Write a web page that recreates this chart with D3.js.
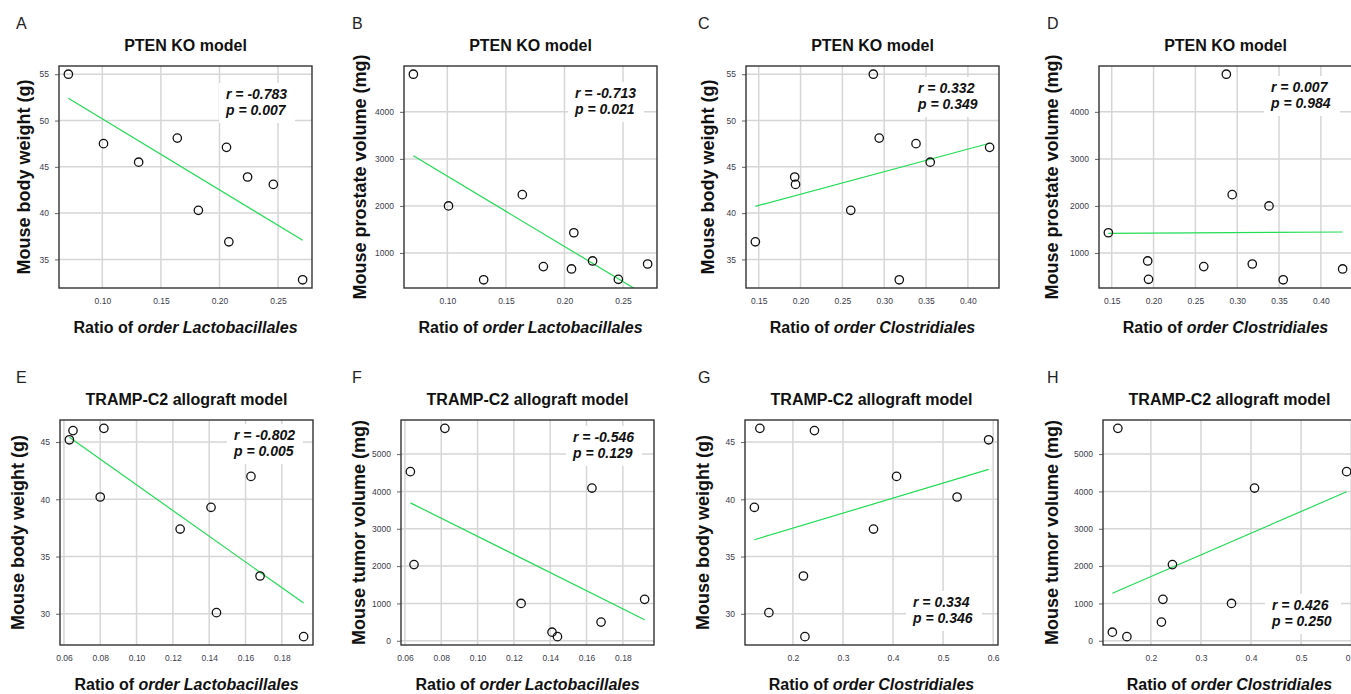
<!DOCTYPE html>
<html>
<head>
<meta charset="utf-8">
<script src="https://cdn.jsdelivr.net/npm/d3@7"></script>
<style>
  html, body { margin: 0; padding: 0; background: #fff; overflow: hidden; }
  svg { display: block; font-family: "Liberation Sans", Arial, sans-serif; }
</style>
</head>
<body>
<svg id="chart"></svg>
<script>
// PTEN KO model: the same ten mice in panels A-D
let ptenLacto    = [0.071, 0.101, 0.131, 0.164, 0.182, 0.206, 0.208, 0.224, 0.246, 0.271];
let ptenClostr   = [0.287, 0.338, 0.355, 0.294, 0.260, 0.426, 0.146, 0.193, 0.194, 0.318];
let ptenWeight   = [55.0, 47.5, 45.5, 48.1, 40.3, 47.1, 36.9, 43.9, 43.1, 32.8];
let ptenProstate = [4800, 2000, 430, 2240, 710, 660, 1430, 830, 440, 765];

// TRAMP-C2 allograft model: ten mice in panels E-H (one has no tumour value)
let trampLacto  = [0.063, 0.065, 0.080, 0.082, 0.124, 0.141, 0.144, 0.163, 0.168, 0.192];
let trampClostr = [0.591, 0.243, 0.528, 0.134, 0.361, 0.123, 0.152, 0.407, 0.221, 0.224];
let trampWeight = [45.2, 46.0, 40.2, 46.2, 37.4, 39.3, 30.1, 42.0, 33.3, 28.0];
let trampTumor  = [4530, 2040, null, 5690, 1000, 230, 110, 4090, 500, 1110];

// correlation results printed on each panel
let statR = ["-0.783", "-0.713", "0.332", "0.007", "-0.802", "-0.546", "0.334", "0.426"];
let statP = ["0.007", "0.021", "0.349", "0.984", "0.005", "0.129", "0.346", "0.250"];

// tick labels
let ticksPtenLacto  = [0.10, 0.15, 0.20, 0.25];
let ticksPtenClostr = [0.15, 0.20, 0.25, 0.30, 0.35, 0.40];
let ticksTrampLacto = [0.06, 0.08, 0.10, 0.12, 0.14, 0.16, 0.18];
let ticksTrampClostr = [0.2, 0.3, 0.4, 0.5, 0.6];
let ticksPtenWeight = [35, 40, 45, 50, 55];
let ticksProstate   = [1000, 2000, 3000, 4000];
let ticksTrampWeight = [30, 35, 40, 45];
let ticksTumor      = [0, 1000, 2000, 3000, 4000, 5000];

let width = 1351;
let height = 694;
let boxW = 253;

let svg = d3.select("#chart").attr("width", width).attr("height", height);

let panels = [
    { letter: "A", letterX: 16, title: "PTEN KO model", xs: ptenLacto, ys: ptenWeight, xTicks: ticksPtenLacto, xFmt: ".2f", yTicks: ticksPtenWeight, order: "Lactobacillales", ylab: "Mouse body weight (g)", left: 59, top: 66, h: 222, ylabOff: 29, statX: 167, statY: 33 },
    { letter: "B", letterX: 352, title: "PTEN KO model", xs: ptenLacto, ys: ptenProstate, xTicks: ticksPtenLacto, xFmt: ".2f", yTicks: ticksProstate, order: "Lactobacillales", ylab: "Mouse prostate volume (mg)", left: 404, top: 66, h: 222, ylabOff: 38, statX: 171, statY: 32 },
    { letter: "C", letterX: 698, title: "PTEN KO model", xs: ptenClostr, ys: ptenWeight, xTicks: ticksPtenClostr, xFmt: ".2f", yTicks: ticksPtenWeight, order: "Clostridiales", ylab: "Mouse body weight (g)", left: 746, top: 66, h: 222, ylabOff: 32, statX: 172, statY: 27 },
    { letter: "D", letterX: 1047, title: "PTEN KO model", xs: ptenClostr, ys: ptenProstate, xTicks: ticksPtenClostr, xFmt: ".2f", yTicks: ticksProstate, order: "Clostridiales", ylab: "Mouse prostate volume (mg)", left: 1099, top: 66, h: 222, ylabOff: 41, statX: 172, statY: 26 },
    { letter: "E", letterX: 16, title: "TRAMP-C2 allograft model", xs: trampLacto, ys: trampWeight, xTicks: ticksTrampLacto, xFmt: ".2f", yTicks: ticksTrampWeight, order: "Lactobacillales", ylab: "Mouse body weight (g)", left: 60, top: 420, h: 225, ylabOff: 36, statX: 174, statY: 20 },
    { letter: "F", letterX: 352, title: "TRAMP-C2 allograft model", xs: trampLacto, ys: trampTumor, xTicks: ticksTrampLacto, xFmt: ".2f", yTicks: ticksTumor, order: "Lactobacillales", ylab: "Mouse tumor volume (mg)", left: 401, top: 420, h: 225, ylabOff: 36, statX: 172, statY: 22 },
    { letter: "G", letterX: 698, title: "TRAMP-C2 allograft model", xs: trampClostr, ys: trampWeight, xTicks: ticksTrampClostr, xFmt: ".1f", yTicks: ticksTrampWeight, order: "Clostridiales", ylab: "Mouse body weight (g)", left: 745, top: 420, h: 225, ylabOff: 36, statX: 168, statY: 187 },
    { letter: "H", letterX: 1047, title: "TRAMP-C2 allograft model", xs: trampClostr, ys: trampTumor, xTicks: ticksTrampClostr, xFmt: ".1f", yTicks: ticksTumor, order: "Clostridiales", ylab: "Mouse tumor volume (mg)", left: 1103, top: 420, h: 225, ylabOff: 45, statX: 169, statY: 190 }
];

// R style axis range: data range widened by 4% on each side
let padExtent = (vals) => {
    let [lo, hi] = d3.extent(vals);
    let r = hi - lo;
    return [lo - 0.04 * r, hi + 0.04 * r];
};

let drawPanel = (p, i) => {
    let h = p.h;
    let pts = p.xs.map((x, k) => [x, p.ys[k]]).filter(d => d[0] != null && d[1] != null);

    let xScale = d3.scaleLinear().domain(padExtent(pts.map(d => d[0]))).range([0, boxW]);
    let yScale = d3.scaleLinear().domain(padExtent(pts.map(d => d[1]))).range([h, 0]);

    let g = svg.append("g").attr("transform", "translate(" + p.left + "," + p.top + ")");

    // panel letter
    svg.append("text")
        .attr("x", p.letterX)
        .attr("y", p.top - 37)
        .style("font-size", "16px")
        .style("fill", "#222")
        .text(p.letter);

    // title
    g.append("text")
        .attr("x", boxW / 2)
        .attr("y", -15)
        .attr("text-anchor", "middle")
        .style("font-size", "16px")
        .style("font-weight", "bold")
        .style("fill", "#111")
        .text(p.title);

    // grid
    g.selectAll(".gx").data(p.xTicks).enter().append("line")
        .attr("x1", d => xScale(d)).attr("x2", d => xScale(d))
        .attr("y1", 0).attr("y2", h)
        .style("stroke", "#d6d6d6").style("stroke-width", 1.5);
    g.selectAll(".gy").data(p.yTicks).enter().append("line")
        .attr("x1", 0).attr("x2", boxW)
        .attr("y1", d => yScale(d)).attr("y2", d => yScale(d))
        .style("stroke", "#d6d6d6").style("stroke-width", 1.5);

    // axes (labels only, box is drawn separately)
    let xAxis = d3.axisBottom(xScale).tickValues(p.xTicks).tickFormat(d3.format(p.xFmt)).tickSize(0).tickPadding(10);
    let xg = g.append("g").attr("transform", "translate(0," + h + ")").call(xAxis);
    xg.select(".domain").remove();

    let yAxis = d3.axisLeft(yScale).tickValues(p.yTicks).tickFormat(d3.format("d")).tickSize(4).tickPadding(6);
    let yg = g.append("g").call(yAxis);
    yg.select(".domain").remove();

    [xg, yg].forEach(a => {
        a.selectAll("text").style("font-size", "8.5px").style("fill", "#3b3b4a").style("font-family", "'Liberation Sans', Arial, sans-serif");
        a.selectAll("line").style("stroke", "#666");
    });

    // regression line, clipped to the plot box
    let clipId = "clip" + i;
    g.append("clipPath").attr("id", clipId)
        .append("rect").attr("width", boxW).attr("height", h);

    let mx = d3.mean(pts, d => d[0]);
    let my = d3.mean(pts, d => d[1]);
    let sxy = d3.sum(pts, d => (d[0] - mx) * (d[1] - my));
    let sxx = d3.sum(pts, d => (d[0] - mx) * (d[0] - mx));
    let slope = sxy / sxx;
    let ends = d3.extent(pts, d => d[0]).map(x => [x, my + slope * (x - mx)]);

    g.append("path")
        .datum(ends)
        .attr("clip-path", "url(#" + clipId + ")")
        .attr("d", d3.line().x(d => xScale(d[0])).y(d => yScale(d[1])))
        .style("fill", "none")
        .style("stroke", "#22dd55")
        .style("stroke-width", 1.2);

    // statistics label with white backing
    g.append("rect")
        .attr("x", p.statX - 7)
        .attr("y", p.statY - 16)
        .attr("width", 76)
        .attr("height", 40)
        .style("fill", "#fff");

    let st = g.append("text")
        .attr("x", p.statX)
        .attr("y", p.statY)
        .style("font-size", "14px")
        .style("font-weight", "bold")
        .style("font-style", "italic")
        .style("fill", "#111");
    st.append("tspan").attr("x", p.statX).text("r = " + statR[i]);
    st.append("tspan").attr("x", p.statX).attr("dy", 16).text("p = " + statP[i]);

    // points
    g.selectAll("circle").data(pts).enter().append("circle")
        .attr("cx", d => xScale(d[0]))
        .attr("cy", d => yScale(d[1]))
        .attr("r", 4.2)
        .style("fill", "none")
        .style("stroke", "#111")
        .style("stroke-width", 1.3);

    // box
    g.append("rect")
        .attr("width", boxW).attr("height", h)
        .style("fill", "none")
        .style("stroke", "#333")
        .style("stroke-width", 1.4);

    // y label
    g.append("text")
        .attr("transform", "translate(" + (-p.ylabOff) + "," + (h / 2) + ") rotate(-90)")
        .attr("text-anchor", "middle")
        .style("font-size", "18px")
        .style("font-weight", "bold")
        .style("fill", "#111")
        .text(p.ylab);

    // x label
    let xl = g.append("text")
        .attr("x", boxW / 2)
        .attr("y", h + 45)
        .attr("text-anchor", "middle")
        .style("font-size", "16px")
        .style("font-weight", "bold")
        .style("fill", "#111");
    xl.append("tspan").text("Ratio of ");
    xl.append("tspan").style("font-style", "italic").text("order " + p.order);
};

panels.forEach(drawPanel);
</script>
</body>
</html>
